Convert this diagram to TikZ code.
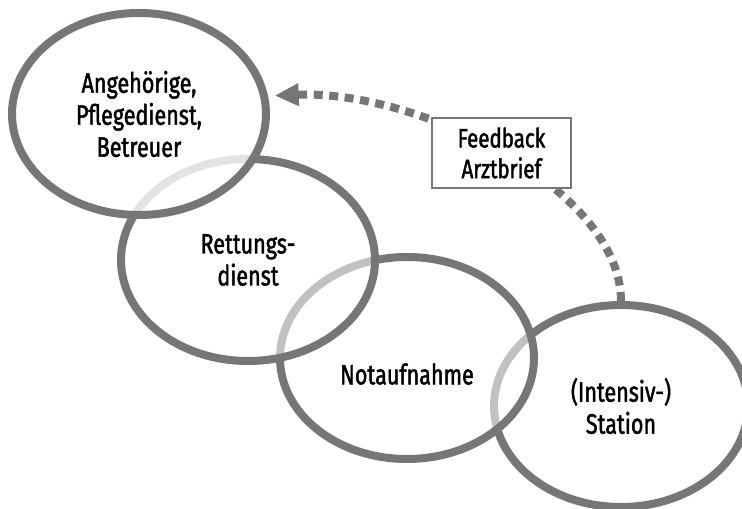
\documentclass[tikz,border=0pt]{standalone}
\usepackage{fontspec}
\setmainfont{Fira Sans}[FakeStretch=0.77, FakeBold=1.6]
\usepackage{tikz}
\usetikzlibrary{arrows.meta,positioning,shapes.geometric}
\definecolor{ringgray}{RGB}{118,118,118}

\begin{document}
\begin{tikzpicture}[
  x=0.75pt, y=-0.75pt,
  ring/.style={ellipse, draw=ringgray, line width=6pt, minimum width=190.5pt,
    minimum height=151.5pt, inner sep=0pt, align=center,
    font=\fontsize{21}{24}\selectfont},
  veil/.style={ring, fill=white, fill opacity=#1, text opacity=1},
  lbl/.style={align=center, font=\fontsize{21}{24}\selectfont},
  fbbox/.style={draw=ringgray, line width=1.5pt, fill=white, minimum width=104pt,
    minimum height=52.5pt, inner sep=0pt, align=center,
    font=\fontsize{20}{23}\selectfont},
  feedback/.style={draw=ringgray, line width=6pt, dash pattern=on 6.75pt off 4.9pt,
    -{Triangle[length=18pt,width=16pt]}, shorten >=5pt},
]
\useasboundingbox (0,0) rectangle (742,509);

% Chain of stations, last one first
\node[ring] (st) at (621,406) {(Intensiv-)\\Station};
\node[veil=0.55] (na) at (407,358) {};
\node[lbl] (natxt) at ([yshift=-12pt]na.center) {Notaufnahme};
\node[veil=0.55] (rd) at (248,260) {Rettungs-\\dienst};
\node[veil=0.8] (ang) at (139,114) {Angehörige,\\Pflegedienst,\\Betreuer};

% Feedback back to the start
\draw[feedback] (st.north) .. controls +(0,-111) and +(152,-6) .. (ang.8);
\node[fbbox] (fb) at (501.5,153) {Feedback\\Arztbrief};

\end{tikzpicture}
\end{document}
